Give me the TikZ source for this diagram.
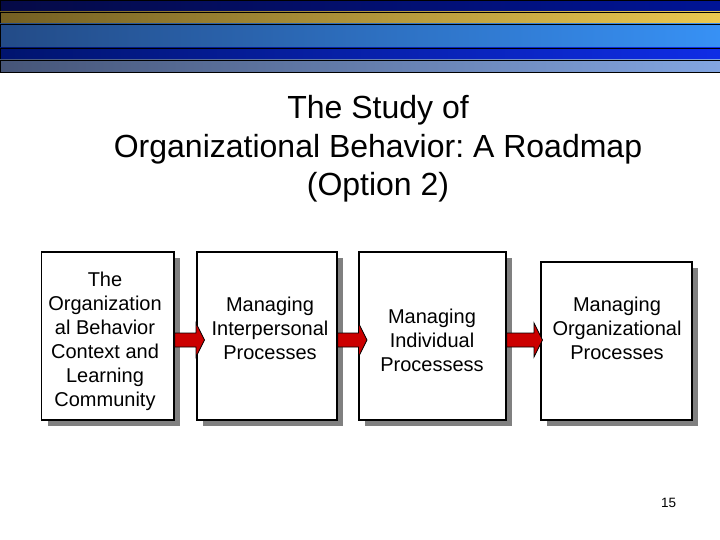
\documentclass[tikz,border=0pt]{standalone}
\usepackage{fontspec}
\setmainfont{Liberation Sans}
\usetikzlibrary{shadows,calc}
\frenchspacing

\definecolor{navyL}{RGB}{5,10,70}
\definecolor{navyR}{RGB}{0,20,150}
\definecolor{goldL}{RGB}{115,95,35}
\definecolor{goldR}{RGB}{235,200,80}
\definecolor{skyL}{RGB}{35,75,135}
\definecolor{skyR}{RGB}{55,145,245}
\definecolor{royalL}{RGB}{0,20,110}
\definecolor{royalR}{RGB}{15,45,230}
\definecolor{slateL}{RGB}{70,85,120}
\definecolor{slateR}{RGB}{130,165,225}
\definecolor{arrowred}{RGB}{204,0,0}

% block arrow from one box to the next, on the arrow axis
\newcommand{\flowarrow}[2]{%
  \coordinate (s) at (#1.east |- axis);
  \coordinate (m) at ($(#1.east)!0.5!(#2.west)$);
  \coordinate (tip) at ($(m |- axis)+(19,0)$);
  \draw[flowarrow] ($(s)+(0,-7)$) -- ($(tip)+(-8.5,-7)$) -- ($(tip)+(-8.5,-17)$)
    -- (tip) -- ($(tip)+(-8.5,17)$) -- ($(tip)+(-8.5,7)$) -- ($(s)+(0,7)$) -- cycle;
}

\begin{document}
\begin{tikzpicture}[x=1pt,y=-1pt,
    band/.style={draw=black, line width=0.8pt},
    box/.style={draw=black, line width=1.5pt, fill=white, inner sep=0pt,
      drop shadow={shadow xshift=6pt, shadow yshift=-6pt, fill=black!50, opacity=1}},
    boxtext/.style={align=center, inner sep=0pt, font=\fontsize{20}{24}\selectfont},
    flowarrow/.style={draw=black, line width=0.8pt, fill=arrowred, line join=miter}]
  \fill[white] (0,0) rectangle (720,540);
  \useasboundingbox (0,0) rectangle (720,540);

  % header bands
  \draw[band, left color=navyL, right color=navyR] (0,0) rectangle (721,12);
  \draw[band, left color=goldL, right color=goldR] (0,12) rectangle (721,24);
  \draw[band, left color=skyL, right color=skyR] (0,24) rectangle (721,48);
  \draw[band, left color=royalL, right color=royalR] (0,48) rectangle (721,60);
  \draw[band, left color=slateL, right color=slateR] (0,60) rectangle (721,72);

  % title
  \node[align=center, font=\fontsize{32}{38.5}\selectfont] (title) at (378,149)
    {The Study of\\Organizational Behavior: A Roadmap\\(Option 2)};

  % boxes
  \node[box, minimum width=132.5, minimum height=168] (context) at (107.75,336) {};
  \node[box, minimum width=140, minimum height=168] (interpersonal) at (267,336) {};
  \node[box, minimum width=147, minimum height=168] (individual) at (432.5,336) {};
  \node[box, minimum width=151, minimum height=158] (organizational) at (616.5,341) {};

  \node[boxtext] (contexttext) at (105,341)
    {The\\Organization\\al Behavior\\Context and\\Learning\\Community};
  \node[boxtext] (interpersonaltext) at (270,328)
    {Managing\\Interpersonal\\Processes};
  \node[boxtext] (individualtext) at (432,340)
    {Managing\\Individual\\Processess};
  \node[boxtext] (organizationaltext) at (617,328)
    {Managing\\Organizational\\Processes};

  % arrows
  \coordinate (axis) at (0,340);
  \flowarrow{context}{interpersonal}
  \flowarrow{interpersonal}{individual}
  \flowarrow{individual}{organizational}

  % page number
  \node[font=\fontsize{13.5}{16}\selectfont] (page) at (668.5,503) {15};
\end{tikzpicture}
\end{document}
